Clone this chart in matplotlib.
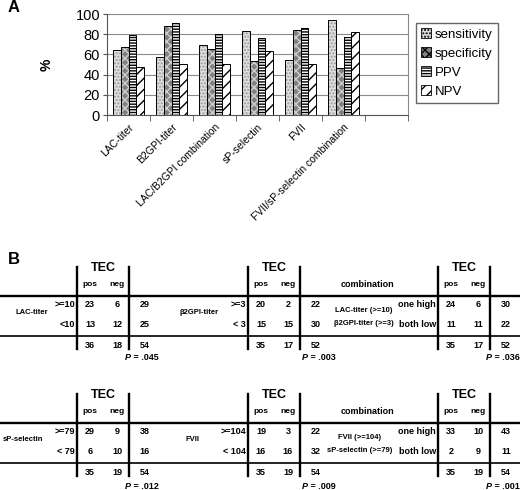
import numpy as np
import matplotlib
matplotlib.use('Agg')
import matplotlib.pyplot as plt
import matplotlib.transforms as mtransforms
from matplotlib.patches import Patch

plt.rcParams['font.family'] = ['Liberation Sans', 'DejaVu Sans']
plt.rcParams['hatch.linewidth'] = 1.0

# --- panel A data ---
categories = ['LAC-titer', 'B2GPI-titer', 'LAC/B2GPI combination',
              'sP-selectin', 'FVII', 'FVII/sP-selectin combination']
sensitivity = [64, 57, 69, 83, 54, 94]
specificity = [67, 88, 65, 53, 84, 47]
ppv = [79, 91, 80, 76, 86, 77]
npv = [48, 50, 50, 63, 50, 82]
series_names = ['sensitivity', 'specificity', 'PPV', 'NPV']

# --- panel B data ---
tab_names = ['LAC-titer', 'β2GPI-titer', 'LAC-titer (>=10)\nβ2GPI-titer (>=3)',
             'sP-selectin', 'FVII', 'FVII (>=104)\nsP-selectin (>=79)']
tab_cutoffs = [['>=10', '<10'], ['>=3', '< 3'], ['one high', 'both low'],
               ['>=79', '< 79'], ['>=104', '< 104'], ['one high', 'both low']]
tab_pos = [[23, 13], [20, 15], [24, 11], [29, 6], [19, 16], [33, 2]]
tab_neg = [[6, 12], [2, 15], [6, 11], [9, 10], [3, 16], [10, 9]]
tab_rowtot = [[29, 25], [22, 30], [30, 22], [38, 16], [22, 32], [43, 11]]
tab_coltot = [[36, 18, 54], [35, 17, 52], [35, 17, 52],
              [35, 19, 54], [35, 19, 54], [35, 19, 54]]
tab_p = ['.045', '.003', '.036', '.012', '.009', '.001']

# styles
face = ['#dedede', '#808080', 'white', 'white']
hatch_col = ['#9a9a9a', '#cfcfcf', 'black', 'black']
hatches = ['.....', 'xxxx', '------', '///']

W, H = 520, 490
fig = plt.figure(figsize=(W / 100, H / 100), dpi=100)

# ---------------- panel A ----------------
ax = fig.add_axes([107 / W, 1 - 115 / H, 301 / W, 101 / H])
data = [sensitivity, specificity, ppv, npv]
x = np.arange(len(categories)) + 0.5
bw = 0.175
for j, vals in enumerate(data):
    xs = x + (j - 1.5) * bw
    ax.bar(xs, vals, bw, color=face[j], edgecolor=hatch_col[j],
           hatch=hatches[j], linewidth=0, zorder=3)
    ax.bar(xs, vals, bw, fill=False, edgecolor='black', linewidth=0.7, zorder=4)

ax.set_xlim(0, 7)
ax.set_ylim(0, 100)
ax.set_yticks(range(0, 101, 20))
ax.yaxis.grid(True, color='#8a8a8a', linewidth=0.8, zorder=0)
ax.set_xticks(x)
ax.set_xticklabels(categories, rotation=45, ha='right', rotation_mode='anchor',
                   fontsize=7.5)
shift = mtransforms.ScaledTranslation(-0.07, 0, fig.dpi_scale_trans)
for lab in ax.get_xticklabels():
    lab.set_transform(lab.get_transform() + shift)
ax.set_xticks(np.arange(0, 8), minor=True)
ax.tick_params(axis='x', which='major', length=0, pad=5)
ax.tick_params(axis='x', which='minor', length=4, color='#555555')
ax.tick_params(axis='y', labelsize=10.5, length=3, pad=2, color='#555555')
ax.spines['top'].set_visible(False)
ax.spines['right'].set_color('#8a8a8a')
ax.spines['left'].set_color('#555555')
ax.spines['bottom'].set_color('#555555')
ax.set_ylabel('%', fontsize=10, fontweight='bold', labelpad=16)

handles = [Patch(facecolor=face[j], edgecolor=hatch_col[j], hatch=hatches[j])
           for j in range(4)]
leg = fig.legend(handles, series_names, loc='upper left',
                 bbox_to_anchor=(416 / W, 1 - 23 / H), borderaxespad=0,
                 fontsize=9.5, handlelength=0.75, handleheight=0.75,
                 handletextpad=0.3, labelspacing=0.5, borderpad=0.4,
                 fancybox=False, edgecolor='#666666', framealpha=1)
for h in leg.legend_handles:
    h.set_edgecolor('black')
    h.set_linewidth(0.6)

fig.text(8 / W, 1 - 8 / H, 'A', fontsize=12, fontweight='bold', va='center')
fig.text(8 / W, 1 - 259 / H, 'B', fontsize=12, fontweight='bold', va='center')

# ---------------- panel B ----------------
tb = fig.add_axes([0, 0, 1, 1])
tb.set_xlim(0, W)
tb.set_ylim(H, 0)
tb.axis('off')

block_y = [296, 423]
vline_x = [77, 248, 438]
name_x = [32, 199, 364, 23, 192, 360]
p_dy = [61, 63]
bold = dict(fontweight='bold', color='black')

for b, y0 in enumerate(block_y):
    tb.plot([0, W], [y0, y0], color='black', linewidth=1.7)
    tb.plot([0, W], [y0 + 40, y0 + 40], color='black', linewidth=1.2)
    for c, v in enumerate(vline_x):
        t = b * 3 + c
        tb.plot([v, v], [y0 - 29, y0 + 53], color='black', linewidth=1.7)
        tb.plot([v + 52, v + 52], [y0 - 29, y0 + 53], color='black', linewidth=1.7)
        tb.text(v + 26, y0 - 28, 'TEC', fontsize=9, ha='center', va='center', **bold)
        tb.text(v + 13, y0 - 12, 'pos', fontsize=6, ha='center', va='center', **bold)
        tb.text(v + 40, y0 - 12, 'neg', fontsize=6, ha='center', va='center', **bold)
        for r in range(2):
            yy = y0 + 8 + 20 * r
            tb.text(v - 2, yy, tab_cutoffs[t][r], fontsize=6.5, ha='right',
                    va='center', **bold)
            tb.text(v + 13, yy, str(tab_pos[t][r]), fontsize=6.5, ha='center',
                    va='center', **bold)
            tb.text(v + 40, yy, str(tab_neg[t][r]), fontsize=6.5, ha='center',
                    va='center', **bold)
            tb.text(v + 68, yy, str(tab_rowtot[t][r]), fontsize=6.5, ha='center',
                    va='center', **bold)
        for k, dx in enumerate([13, 40, 68]):
            tb.text(v + dx, y0 + 49, str(tab_coltot[t][k]), fontsize=6.5,
                    ha='center', va='center', **bold)
        lines = tab_names[t].split('\n')
        if len(lines) == 1:
            tb.text(name_x[t], y0 + 16, lines[0], fontsize=5.5, ha='center',
                    va='center', **bold)
        else:
            tb.text(367, y0 - 12, 'combination', fontsize=6.5, ha='center',
                    va='center', **bold)
            for k, ln in enumerate(lines):
                tb.text(name_x[t], y0 + 14 + 13 * k, ln, fontsize=5.5,
                        ha='center', va='center', **bold)
        px = v + 52 - 4 + (6 if c == 1 else 0)
        tb.text(px, y0 + p_dy[b], 'P', fontsize=6.5, fontstyle='italic',
                ha='left', va='center', **bold)
        tb.text(px + 6, y0 + p_dy[b], ' = ' + tab_p[t], fontsize=6.5,
                ha='left', va='center', **bold)

fig.savefig('out.png', dpi=100)
